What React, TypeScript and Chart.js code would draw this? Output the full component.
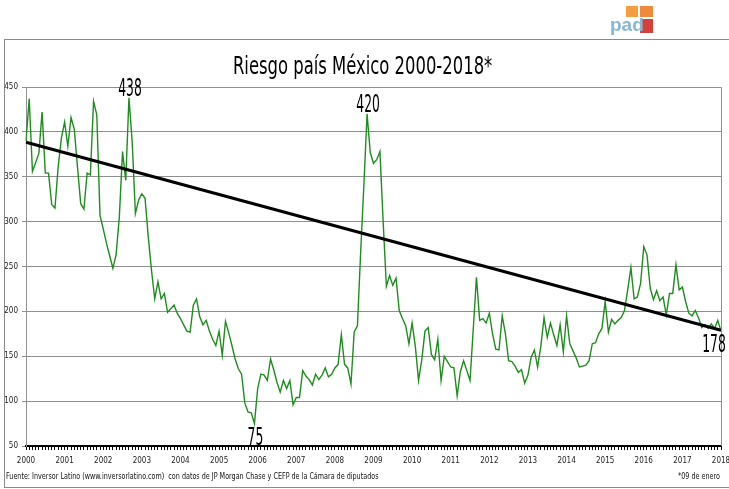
import React, { useEffect, useRef } from 'react';
import { Chart, registerables } from 'chart.js';

Chart.register(...registerables);

// ---- data ----
const yearTicks = ['2000', '2001', '2002', '2003', '2004', '2005', '2006', '2007', '2008', '2009',
  '2010', '2011', '2012', '2013', '2014', '2015', '2016', '2017', '2018'];

// monthly EMBI Mexico spread (basis points), Jan 2000 .. Jan 2018
const riskValues = [
  390, 437, 356, 366, 376, 422, 354, 354, 319, 315,
  361, 393, 411, 384, 416, 403, 361, 320, 314, 354,
  352, 434, 419, 307, 292, 276, 262, 248, 263, 305,
  378, 346, 438, 389, 309, 324, 331, 326, 283,
  246, 214, 233, 214, 220, 199, 203, 207, 198, 192,
  185, 178, 177, 207, 214, 194, 185, 190, 178, 169,
  162, 178, 151, 189, 176, 162, 147, 136, 130, 98,
  88, 87, 75, 114,
  130, 129, 123, 147, 135, 121, 110, 123, 114, 123,
  96, 104, 104, 134, 128, 124, 118, 130, 124, 129,
  137, 127, 130, 137, 141, 174, 141, 137, 119, 177,
  184, 265, 340, 420, 377, 365, 369, 378, 300, 228,
  240, 229, 237, 201,
  192, 184, 164, 187, 161, 123, 146, 178, 182, 152,
  146, 169, 123, 150, 144, 138, 137, 106, 133, 145,
  134, 123, 180, 238, 190, 192, 187, 198, 175, 158,
  157, 195, 175, 145, 144, 139, 132, 135, 120, 129,
  149, 157, 138, 161, 193, 171, 187, 174, 162, 185,
  155, 195, 164, 156, 148, 138, 139, 140, 145, 164,
  165, 175, 181, 211, 177, 191, 186, 190, 193, 201,
  224, 249, 214, 216, 231, 272, 263, 226, 213, 223,
  212, 216, 196, 220, 220, 252, 224, 227, 211, 198,
  195, 201, 193, 182, 185, 181, 186, 181, 190, 178,
];

const trendStart = 388.5;
const trendEnd = 179;

const labelledIdx = [32, 106, 71, 216];
const labelledBelow = [false, false, true, true];

const yMin = 50;
const yMax = 450;
const yStep = 50;

const titleText = 'Riesgo país México 2000-2018*';
const sourceText = 'Fuente: Inversor Latino (www.inversorlatino.com)  con datos de JP Morgan Chase y CEFP de la Cámara de diputados';
const noteText = '*09 de enero';

const FONT = '"Liberation Sans Narrow", "Arial Narrow", "DejaVu Sans Condensed", sans-serif';

export default function App() {
  const canvasRef = useRef<HTMLCanvasElement | null>(null);

  useEffect(() => {
    const canvas = canvasRef.current;
    if (!canvas) return;
    const labels = riskValues.map((_, i) => (i % 12 === 0 ? yearTicks[i / 12] : ''));
    const trend = riskValues.map((_, i) =>
      i === 0 ? trendStart : i === riskValues.length - 1 ? trendEnd : null);

    const peakPlugin = {
      id: 'peakLabels',
      afterDatasetsDraw(chart: any) {
        const ctx = chart.ctx as CanvasRenderingContext2D;
        const xs = chart.scales.x;
        const ys = chart.scales.y;
        const a = chart.chartArea;
        ctx.save();
        ctx.strokeStyle = '#8f8f8f';
        ctx.lineWidth = 1;
        const r = Math.round(a.right) + 0.5;
        ctx.beginPath();
        ctx.moveTo(a.left, Math.round(a.top) + 0.5);
        ctx.lineTo(r, Math.round(a.top) + 0.5);
        ctx.lineTo(r, a.bottom);
        ctx.stroke();

        ctx.fillStyle = '#000';
        ctx.font = `25px ${FONT}`;
        ctx.textAlign = 'center';
        ctx.textBaseline = 'alphabetic';
        labelledIdx.forEach((idx, k) => {
          const v = riskValues[idx];
          const px = xs.getPixelForValue(idx);
          const py = ys.getPixelForValue(v);
          const by = labelledBelow[k] ? py + 21 : py - 1.5;
          const dx = idx === riskValues.length - 1 ? -7 : 1;
          ctx.save();
          ctx.translate(px + dx, by);
          ctx.scale(0.55, 1);
          ctx.fillText(String(v), 0, 0);
          ctx.restore();
        });
        ctx.restore();
      },
    };

    const chart = new Chart(canvas, {
      type: 'line',
      data: {
        labels,
        datasets: [
          {
            label: 'Tendencia',
            data: trend,
            borderColor: '#000000',
            borderWidth: 3,
            pointRadius: 0,
            spanGaps: true,
            order: 0,
          },
          {
            label: 'Riesgo país',
            data: riskValues,
            borderColor: '#1e8c1e',
            borderWidth: 1.4,
            pointRadius: 0,
            tension: 0,
            order: 1,
          },
        ],
      },
      options: {
        animation: false,
        responsive: true,
        maintainAspectRatio: false,
        events: [],
        layout: { padding: { top: 87, right: 8, bottom: 23, left: 0 } },
        plugins: {
          legend: { display: false },
          tooltip: { enabled: false },
          title: { display: false },
        },
        scales: {
          x: {
            type: 'category',
            offset: false,
            afterFit: (s: any) => { s.height = 20; s.paddingRight = 0; s.paddingLeft = 0; },
            grid: {
              drawOnChartArea: false,
              drawTicks: true,
              tickLength: 4,
              tickColor: '#000',
              tickWidth: 1,
            },
            border: { color: '#000', width: 2 },
            ticks: {
              autoSkip: false,
              maxRotation: 0,
              minRotation: 0,
              padding: 6,
              color: '#222',
              font: { family: FONT, size: 8 },
            },
          },
          y: {
            min: yMin,
            max: yMax,
            afterFit: (s: any) => { s.width = 26; },
            grid: {
              color: '#8f8f8f',
              lineWidth: 1,
              tickLength: 4,
              tickColor: '#8f8f8f',
            },
            border: { color: '#8f8f8f', width: 1 },
            ticks: {
              stepSize: yStep,
              padding: 4,
              color: '#222',
              font: { family: FONT, size: 8 },
            },
          },
        },
      },
      plugins: [peakPlugin],
    });
    return () => chart.destroy();
  }, []);

  return (
    <div style={{ position: 'absolute', left: 0, top: 0, width: 729, height: 489, overflow: 'hidden', background: '#fff' }}>
      <div style={{ position: 'absolute', left: 4, top: 39, width: 730, height: 447, border: '1px solid #8a8a8a' }} />
      <div style={{ position: 'absolute', left: 0, top: 0, width: 729, height: 489 }}>
        <canvas ref={canvasRef} />
      </div>
      <div style={{ position: 'absolute', left: -2, top: 53, width: 729, textAlign: 'center', fontFamily: FONT, fontSize: 25, lineHeight: '25px', color: '#000', whiteSpace: 'nowrap' }}>
        <span style={{ display: 'inline-block', transform: 'scaleX(0.73)' }}>{titleText}</span>
      </div>
      <div style={{ position: 'absolute', left: 6, top: 472, fontFamily: FONT, fontSize: 8.5, lineHeight: '8.5px', color: '#111', whiteSpace: 'pre', transform: 'scaleX(0.84)', transformOrigin: '0 0' }}>{sourceText}</div>
      <div style={{ position: 'absolute', right: 9, top: 472, fontFamily: FONT, fontSize: 8.5, lineHeight: '8.5px', color: '#111', whiteSpace: 'nowrap', transform: 'scaleX(0.84)', transformOrigin: '100% 0' }}>{noteText}</div>
      {/* logo */}
      <div style={{ position: 'absolute', left: 626, top: 6, width: 12, height: 11, background: '#f39c40' }} />
      <div style={{ position: 'absolute', left: 640, top: 6, width: 13, height: 11, background: '#ee8a3a' }} />
      <div style={{ position: 'absolute', left: 640, top: 19, width: 13, height: 14, background: '#d6403a' }} />
      <div style={{ position: 'absolute', left: 610, top: 15, fontFamily: '"Liberation Sans", sans-serif', fontWeight: 'bold', fontSize: 19, lineHeight: '19px', color: '#86b6d8' }}>pad</div>
    </div>
  );
}
